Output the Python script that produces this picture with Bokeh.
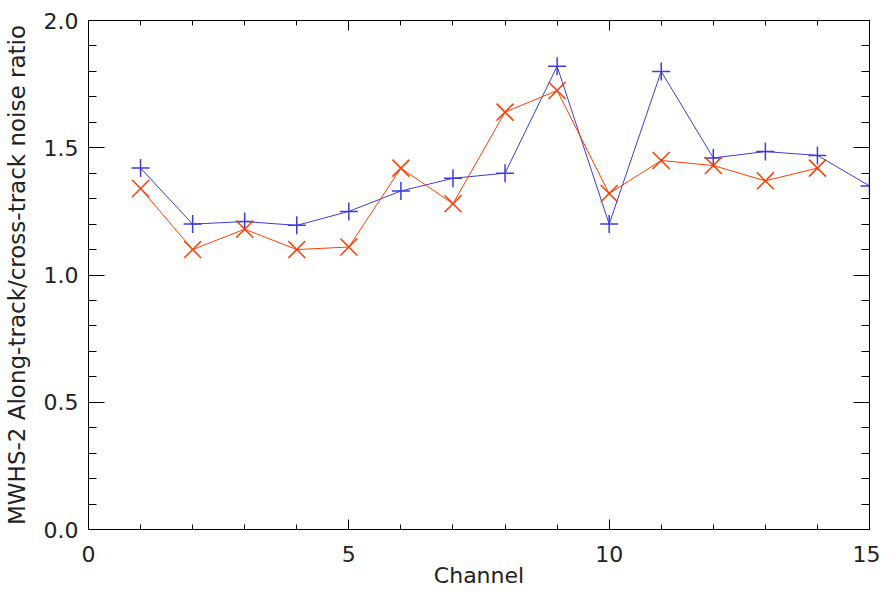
from bokeh.plotting import figure
from bokeh.models import (Range1d, LinearAxis, SingleIntervalTicker, PrintfTickFormatter,
                          ColumnDataSource)
from bokeh.embed import file_html
from bokeh.resources import INLINE

# Data
channels_a = [1, 2, 3, 4, 5, 6, 7, 8, 9, 10, 11, 12, 13, 14, 15]
ratio_a = [1.42, 1.20, 1.21, 1.195, 1.25, 1.33, 1.38, 1.40, 1.82, 1.20, 1.80, 1.46, 1.485, 1.47, 1.35]
channels_b = [1, 2, 3, 4, 5, 6, 7, 8, 9, 10, 11, 12, 13, 14]
ratio_b = [1.34, 1.10, 1.18, 1.10, 1.11, 1.42, 1.28, 1.64, 1.725, 1.32, 1.45, 1.43, 1.37, 1.42]

x_label = "Channel"
y_label = "MWHS-2 Along-track/cross-track noise ratio"

BLUE = "#3c3cdc"
RED = "#ff3c00"
FONT = "DejaVu Sans"
TXT = "#222222"

p = figure(width=880, height=590, output_backend="svg", toolbar_location=None,
           x_range=Range1d(0, 15), y_range=Range1d(0, 2),
           min_border_left=88, min_border_right=11, min_border_top=20, min_border_bottom=61,
           x_axis_label=x_label, y_axis_label=y_label)

p.grid.visible = False
p.outline_line_color = "black"
p.outline_line_width = 1
p.background_fill_color = "white"
p.border_fill_color = "white"

def style_x(ax, labels=True):
    ax.ticker = SingleIntervalTicker(interval=5, num_minor_ticks=5)
    ax.major_tick_in = 10
    ax.major_tick_out = 0
    ax.minor_tick_in = 5
    ax.minor_tick_out = 0
    ax.axis_line_color = "black"
    ax.major_tick_line_color = "black"
    ax.minor_tick_line_color = "black"
    if labels:
        ax.major_label_text_font = FONT
        ax.major_label_text_font_size = "22px"
        ax.major_label_text_color = TXT
        ax.major_label_standoff = 16
        ax.axis_label_text_font = FONT
        ax.axis_label_text_font_size = "22px"
        ax.axis_label_text_font_style = "normal"
        ax.axis_label_text_color = TXT
        ax.axis_label_standoff = -2
    else:
        ax.major_label_text_color = None
        ax.major_label_text_font_size = "1px"
        ax.major_label_standoff = 0

def style_y(ax, labels=True):
    ax.ticker = SingleIntervalTicker(interval=0.5, num_minor_ticks=5)
    ax.formatter = PrintfTickFormatter(format="%.1f")
    ax.major_tick_in = 16
    ax.major_tick_out = 0
    ax.minor_tick_in = 8
    ax.minor_tick_out = 0
    ax.axis_line_color = "black"
    ax.major_tick_line_color = "black"
    ax.minor_tick_line_color = "black"
    if labels:
        ax.major_label_text_font = FONT
        ax.major_label_text_font_size = "22px"
        ax.major_label_text_color = TXT
        ax.major_label_standoff = 10
        ax.axis_label_text_font = FONT
        ax.axis_label_text_font_size = "23px"
        ax.axis_label_text_font_style = "normal"
        ax.axis_label_text_color = TXT
        ax.axis_label_standoff = 11
    else:
        ax.major_label_text_color = None
        ax.major_label_text_font_size = "1px"
        ax.major_label_standoff = 0

style_x(p.xaxis[0])
style_y(p.yaxis[0])

top_ax = LinearAxis()
style_x(top_ax, labels=False)
p.add_layout(top_ax, "above")
right_ax = LinearAxis()
style_y(right_ax, labels=False)
p.add_layout(right_ax, "right")

src_a = ColumnDataSource(dict(x=channels_a, y=ratio_a))
src_b = ColumnDataSource(dict(x=channels_b, y=ratio_b))

p.line("x", "y", source=src_a, line_color=BLUE, line_width=1)
p.scatter("x", "y", source=src_a, marker="cross", size=18, line_color=BLUE, line_width=1.5)
p.line("x", "y", source=src_b, line_color=RED, line_width=1)
p.scatter("x", "y", source=src_b, marker="x", size=24, line_color=RED, line_width=1.5)

open("out.html", "w").write(file_html(p, INLINE))
